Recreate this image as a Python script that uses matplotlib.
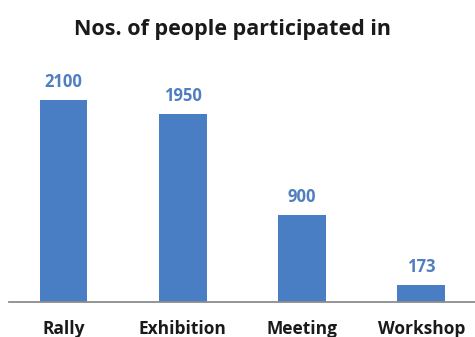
import matplotlib.pyplot as plt

events = ['Rally', 'Exhibition', 'Meeting', 'Workshop']
people = [2100, 1950, 900, 173]

bar_color = '#4a7ec4'
label_color = '#4f7fc0'

plt.rcParams['font.family'] = ['Open Sans', 'DejaVu Sans']

fig = plt.figure(figsize=(4.75, 3.37), dpi=100)
ax = fig.add_axes([9 / 475, 35 / 337, 466 / 475, 240.5 / 337])

x = range(len(events))
bars = ax.bar(x, people, width=0.4, color=bar_color)
for b, v in zip(bars, people):
    ax.annotate(str(v), (b.get_x() + b.get_width() / 2, v),
                xytext=(0, 6.5), textcoords='offset points',
                ha='center', va='bottom', fontsize=12, fontweight='bold',
                color=label_color)

ax.set_xlim(-0.457, 3.45)
ax.set_ylim(0, 2500)
ax.set_xticks(list(x))
ax.set_xticklabels(events, fontsize=12.5, fontweight='bold', color='#1a1a1a')
ax.tick_params(axis='x', length=0, pad=13)
ax.set_yticks([])
for side in ('top', 'right', 'left'):
    ax.spines[side].set_visible(False)
ax.spines['bottom'].set_color('#8c8c8c')
ax.spines['bottom'].set_linewidth(1.3)

fig.text(233 / 475, 1 - 30 / 337, 'Nos. of people participated in',
         ha='center', va='center', fontsize=15.5, fontweight='bold',
         color='#1a1a1a')

fig.savefig('out.png', dpi=100)
